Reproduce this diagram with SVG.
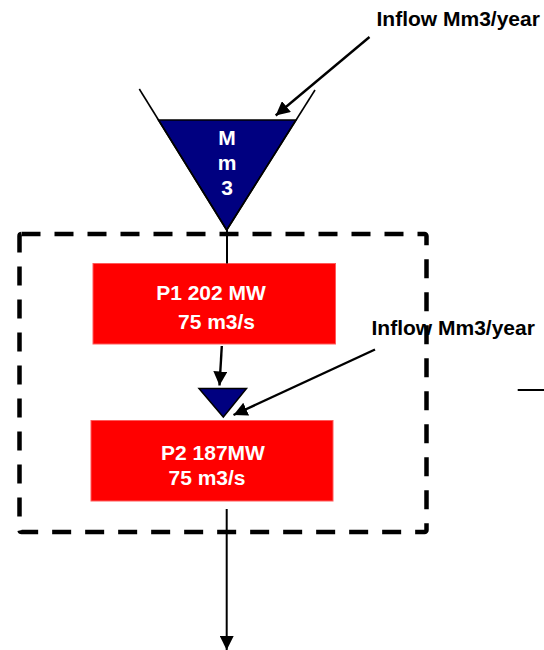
<svg xmlns="http://www.w3.org/2000/svg" width="544" height="650" viewBox="0 0 544 650">
  <style>
    text { font-family: "Liberation Sans", Arial, sans-serif; font-weight: bold; font-size: 21px; }
    .label { fill: #000000; }
    .inner { fill: #ffffff; text-anchor: middle; }
    .plant { fill: #ff0000; stroke: #ff5a5a; stroke-width: 1; }
    .reservoir { fill: #000080; stroke: #000000; stroke-width: 1.5; stroke-linejoin: miter; }
    .wall { fill: none; stroke: #000000; stroke-width: 1.6; }
    .flow { fill: none; stroke: #000000; stroke-width: 2.4; }
    .thin { fill: none; stroke: #000000; stroke-width: 2; }
    .boundary { fill: none; stroke: #000000; stroke-width: 4.5; stroke-dasharray: 19 14; }
  </style>
  <defs>
    <marker id="head" viewBox="0 0 14 14" refX="14" refY="7" markerWidth="14" markerHeight="14" markerUnits="userSpaceOnUse" orient="auto">
      <path d="M0,0 L14,7 L0,14 z" fill="#000000"/>
    </marker>
  </defs>

  <rect width="544" height="650" fill="#ffffff"/>

  <!-- system boundary -->
  <g id="boundary">
    <rect class="boundary" x="19.5" y="234" width="407" height="298" rx="2"/>
  </g>

  <!-- upper reservoir -->
  <g id="reservoir1">
    <polygon class="reservoir" points="158.4,120 296,120 226.7,230"/>
    <line class="wall" x1="139.3" y1="89" x2="226.7" y2="230"/>
    <line class="wall" x1="315" y1="90" x2="226.7" y2="230"/>
    <text class="inner" x="227" y="145">M</text>
    <text class="inner" x="227" y="170">m</text>
    <text class="inner" x="227" y="195">3</text>
  </g>

  <!-- intermediate pond -->
  <g id="reservoir2">
    <polygon class="reservoir" points="199,388.5 246.5,388.5 223.3,417"/>
  </g>

  <!-- power plants -->
  <g id="plant1">
    <rect class="plant" x="93" y="263.5" width="242.5" height="80.5"/>
    <text class="inner" x="211" y="300">P1 202 MW</text>
    <text class="inner" x="216.5" y="328.5">75 m3/s</text>
  </g>

  <g id="plant2">
    <rect class="plant" x="91" y="420.5" width="242" height="80.5"/>
    <text class="inner" x="213" y="459.5">P2 187MW</text>
    <text class="inner" x="207" y="485">75 m3/s</text>
  </g>

  <!-- inflow labels -->
  <g id="inflow1">
    <text class="label" x="376.5" y="26">Inflow Mm3/year</text>
  </g>
  <g id="inflow2">
    <text class="label" x="371.5" y="335">Inflow Mm3/year</text>
  </g>

  <!-- flows -->
  <g id="connectors">
    <line class="flow" x1="369.5" y1="37" x2="275.7" y2="115.5" marker-end="url(#head)"/>
    <line class="thin" x1="227" y1="230" x2="227" y2="263.5"/>
    <line class="flow" x1="221.8" y1="346" x2="219.5" y2="385.5" marker-end="url(#head)"/>
    <line class="flow" x1="375" y1="349.5" x2="233.5" y2="415" marker-end="url(#head)"/>
    <line class="thin" x1="226.7" y1="509" x2="226.7" y2="650" marker-end="url(#head)"/>
    <line class="thin" x1="517.7" y1="390" x2="544" y2="390"/>
  </g>
</svg>
